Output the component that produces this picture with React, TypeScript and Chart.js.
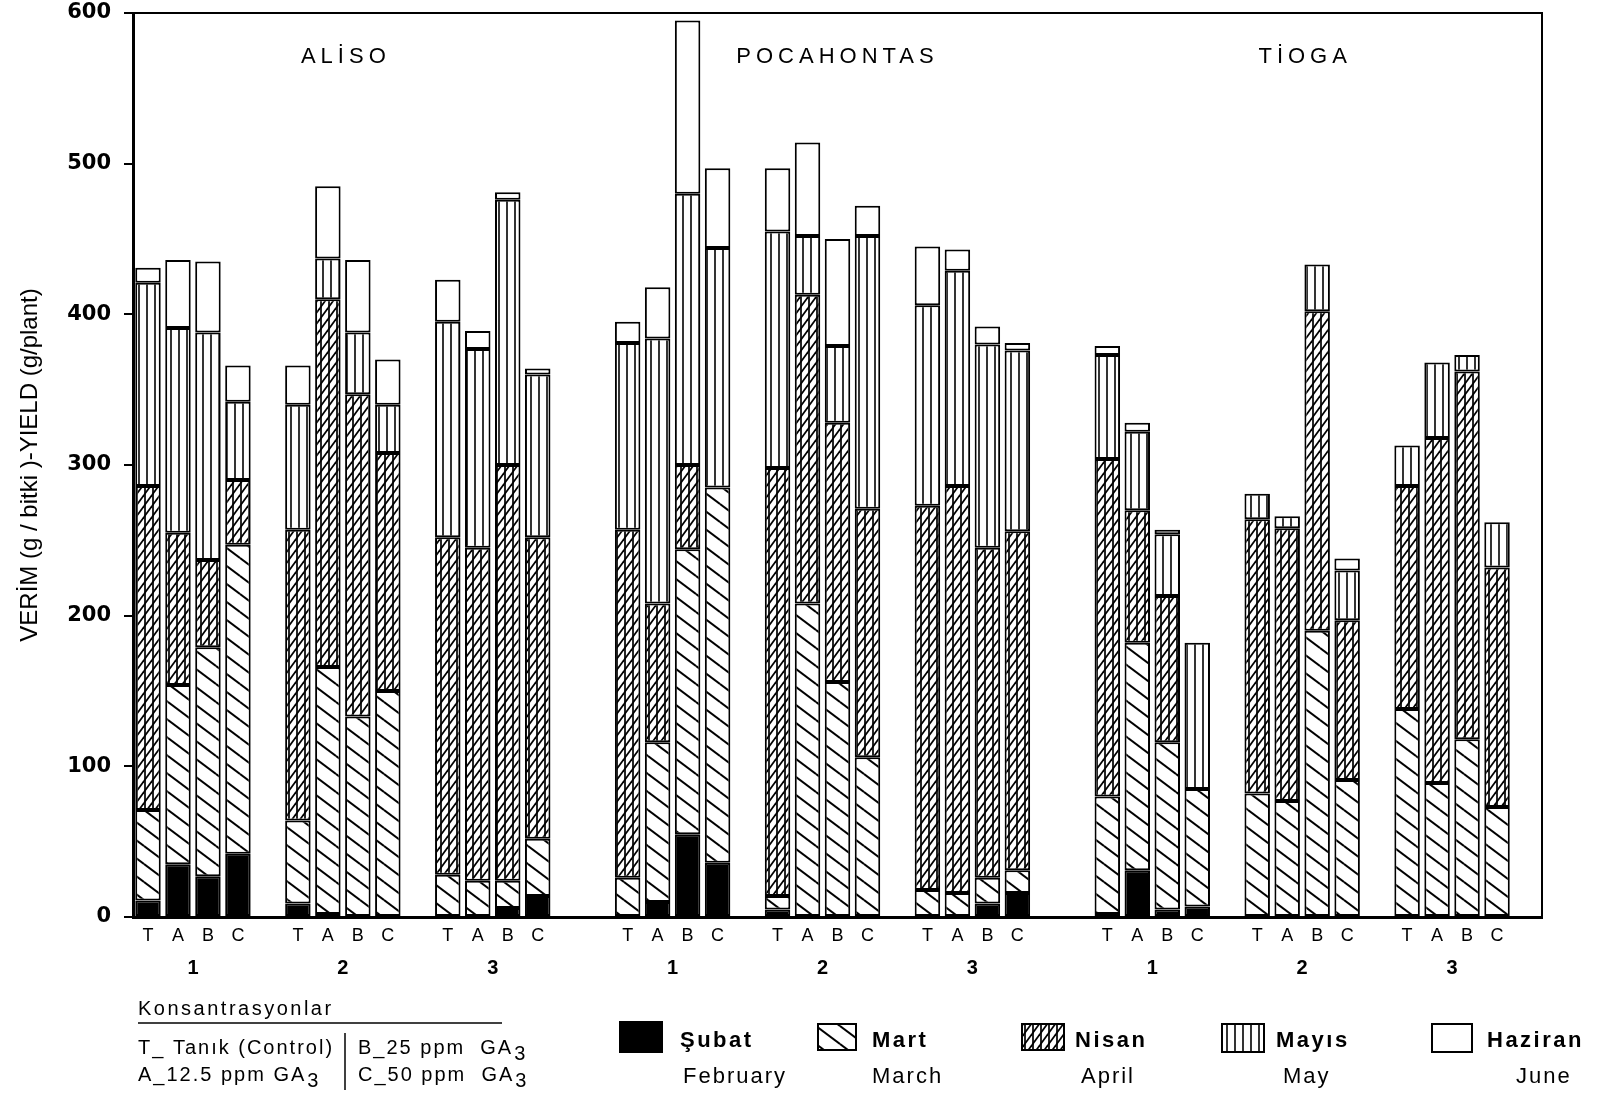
import React, { useEffect, useRef } from 'react';
import { Chart, registerables } from 'chart.js';

Chart.register(...registerables);

// ---- data ----
const varieties = ['ALİSO', 'POCAHONTAS', 'TİOGA'];
const harvests = ['1', '2', '3'];
const treatments = ['T', 'A', 'B', 'C'];
const yTicks = [0, 100, 200, 300, 400, 500, 600];

// order: Aliso 1(T,A,B,C) 2 3, Pocahontas 1 2 3, Tioga 1 2 3  (g/plant per month)
const subat = [11, 35, 27, 42, 9, 2, 0, 0, 0, 0, 6, 14, 0, 10, 55, 36, 5, 0, 0, 0, 0, 0, 9, 16, 2, 31, 5, 7, 0, 0, 0, 0, 0, 0, 0, 0];
const mart = [60, 119, 152, 205, 55, 164, 133, 150, 28, 24, 18, 38, 26, 106, 189, 249, 9, 208, 156, 106, 18, 16, 17, 15, 78, 151, 111, 78, 82, 77, 190, 91, 138, 89, 118, 73];
const nisan = [215, 101, 58, 43, 193, 244, 214, 158, 224, 221, 276, 200, 231, 92, 56, 0, 284, 205, 172, 165, 255, 270, 219, 225, 224, 88, 97, 0, 182, 181, 212, 106, 148, 229, 244, 159];
const mayis = [135, 136, 151, 52, 83, 27, 41, 32, 143, 132, 176, 108, 124, 176, 180, 159, 157, 39, 51, 181, 133, 143, 135, 120, 69, 52, 41, 97, 17, 8, 31, 33, 27, 50, 11, 30];
const haziran = [10, 45, 47, 24, 26, 48, 48, 30, 28, 12, 5, 4, 14, 34, 115, 53, 42, 62, 71, 20, 39, 14, 12, 5, 6, 6, 3, 0, 0, 0, 0, 8, 0, 0, 0, 0];

const seriesTr = ['Şubat', 'Mart', 'Nisan', 'Mayıs', 'Haziran'];
const seriesEn = ['February', 'March', 'April', 'May', 'June'];
const seriesValues = [subat, mart, nisan, mayis, haziran];
const seriesFill = ['solid', 'diag', 'cross', 'vert', 'none'];

const concTitle = 'Konsantrasyonlar';
const concLeft = [['T_ Tanık (Control)', ''], ['A_12.5 ppm GA', '3']];
const concRight = [['B_25 ppm  GA', '3'], ['C_50 ppm  GA', '3']];
const yTitle = 'VERİM (g / bitki )-YIELD (g/plant)';

// ---- slot layout (category axis with blank spacer slots) ----
const slotLabels: string[] = [];
const slotOfBar: number[] = [];
const groupFirstSlot: number[] = [];
const varietySlots: number[][] = [];
varieties.forEach((_, vi) => {
  const first = slotLabels.length;
  harvests.forEach((__, hi) => {
    groupFirstSlot.push(slotLabels.length);
    treatments.forEach((t) => {
      slotOfBar.push(slotLabels.length);
      slotLabels.push(t);
    });
    if (hi < harvests.length - 1) slotLabels.push('');
  });
  varietySlots.push([first, slotLabels.length - 1]);
  if (vi < varieties.length - 1) slotLabels.push('', '');
  else slotLabels.push('');
});

const SANS = '"Liberation Sans", Arial, sans-serif';
const titleShift = [0, 12, 0];

function makePattern(kind: string): any {
  if (kind === 'solid') return '#000';
  if (kind === 'none') return '#fff';
  let W = 8, H = 8;
  if (kind === 'diag') { W = 24; H = 18; }
  if (kind === 'cross') { W = 8; H = 11; }
  if (kind === 'vert') { W = 8; H = 8; }
  const c = document.createElement('canvas');
  c.width = W; c.height = H;
  const g = c.getContext('2d')!;
  g.fillStyle = '#fff';
  g.fillRect(0, 0, W, H);
  g.strokeStyle = '#000';
  const line = (x1: number, y1: number, x2: number, y2: number, lw: number) => {
    g.lineWidth = lw;
    for (const dx of [-W, 0, W]) for (const dy of [-H, 0, H]) {
      g.beginPath(); g.moveTo(x1 + dx, y1 + dy); g.lineTo(x2 + dx, y2 + dy); g.stroke();
    }
  };
  if (kind === 'diag') line(0, 0, W, H, 2);
  if (kind === 'cross') { line(1, 0, 1, H, 1.7); line(0, H, W, 0, 1.7); }
  if (kind === 'vert') line(3, 0, 3, H, 1.6);
  return g.createPattern(c, 'repeat');
}

function spaced(ctx: CanvasRenderingContext2D, px: number) {
  try { (ctx as any).letterSpacing = px + 'px'; } catch (e) { /* ignore */ }
}

function drawSubText(ctx: CanvasRenderingContext2D, parts: string[], x: number, y: number, size: number, sp: number) {
  ctx.font = `${size}px ${SANS}`;
  spaced(ctx, sp);
  ctx.textAlign = 'left';
  ctx.textBaseline = 'middle';
  ctx.fillText(parts[0], x, y);
  const w = ctx.measureText(parts[0]).width;
  if (parts[1]) {
    ctx.fillText(parts[1], x + w + 1, y + 6);
  }
}

function makeOverlay(pats: any[]) {
  return {
    id: 'overlay',
    afterDraw(chart: any) {
      const { ctx, chartArea: a } = chart;
      const x = chart.scales.x;
      ctx.save();
      ctx.fillStyle = '#000';
      ctx.strokeStyle = '#000';
      // frame (top + right)
      ctx.lineWidth = 2;
      ctx.beginPath();
      ctx.moveTo(a.left, a.top);
      ctx.lineTo(a.right, a.top);
      ctx.lineTo(a.right, a.bottom);
      ctx.stroke();

      // variety titles
      ctx.font = `22px ${SANS}`;
      spaced(ctx, 5);
      ctx.textAlign = 'center';
      ctx.textBaseline = 'middle';
      varieties.forEach((v, i) => {
        const [s0, s1] = varietySlots[i];
        const cx = (x.getPixelForValue(s0) + x.getPixelForValue(s1)) / 2;
        ctx.fillText(v, cx + 3 + titleShift[i], 57);
      });

      // harvest numbers
      ctx.font = `bold 20px ${SANS}`;
      spaced(ctx, 0);
      groupFirstSlot.forEach((s, i) => {
        const cx = x.getPixelForValue(s + 1.5);
        ctx.fillText(harvests[i % harvests.length], cx, a.bottom + 51);
      });

      // concentration notes
      ctx.textAlign = 'left';
      ctx.font = `20px ${SANS}`;
      spaced(ctx, 2.5);
      ctx.fillText(concTitle, 138, 1009);
      ctx.lineWidth = 1.5;
      ctx.beginPath(); ctx.moveTo(138, 1023); ctx.lineTo(502, 1023); ctx.stroke();
      drawSubText(ctx, concLeft[0], 138, 1048, 20, 2);
      drawSubText(ctx, concLeft[1], 138, 1075, 20, 2);
      drawSubText(ctx, concRight[0], 358, 1048, 20, 2);
      drawSubText(ctx, concRight[1], 358, 1075, 20, 2);
      ctx.lineWidth = 1.5;
      ctx.beginPath(); ctx.moveTo(345, 1033); ctx.lineTo(345, 1090); ctx.stroke();

      // legend
      const sw = [[620, 1022, 42, 30], [818, 1024, 38, 26], [1022, 1024, 42, 26], [1222, 1024, 42, 28], [1432, 1024, 40, 28]];
      const tx = [680, 872, 1075, 1276, 1487];
      const ex = [683, 872, 1081, 1283, 1516];
      seriesTr.forEach((name, i) => {
        const [sx, sy, w, h] = sw[i];
        ctx.fillStyle = pats[i];
        ctx.fillRect(sx, sy, w, h);
        ctx.fillStyle = '#000';
        ctx.lineWidth = 2;
        ctx.strokeRect(sx, sy, w, h);
        ctx.textAlign = 'left';
        ctx.textBaseline = 'middle';
        ctx.font = `bold 22px ${SANS}`;
        spaced(ctx, 2.5);
        ctx.fillText(name, tx[i], 1041);
        ctx.font = `22px ${SANS}`;
        spaced(ctx, 2);
        ctx.fillText(seriesEn[i], ex[i], 1077);
      });
      spaced(ctx, 0);
      ctx.restore();
    },
  };
}

export default function App() {
  const ref = useRef<HTMLCanvasElement>(null);
  useEffect(() => {
    const canvas = ref.current!;
    const pats = seriesFill.map(makePattern);
    const datasets = seriesValues.map((vals, si) => {
      const data: (number | null)[] = slotLabels.map(() => null);
      vals.forEach((v, bi) => { data[slotOfBar[bi]] = v > 0 ? v : null; });
      return {
        label: seriesTr[si],
        data,
        backgroundColor: pats[si],
        borderColor: '#000',
        borderWidth: 2,
        borderSkipped: false as any,
        barPercentage: 0.85,
        categoryPercentage: 1,
      };
    });
    const chart: any = new Chart(canvas, {
      type: 'bar',
      data: { labels: slotLabels, datasets },
      options: {
        animation: false,
        responsive: false,
        layout: { padding: { top: 13, right: 61, left: 0, bottom: 0 } },
        plugins: { legend: { display: false }, tooltip: { enabled: false } },
        scales: {
          x: {
            stacked: true,
            grid: { display: false, drawTicks: false },
            border: { display: true, color: '#000', width: 3 },
            ticks: { autoSkip: false, maxRotation: 0, minRotation: 0, color: '#000', font: { family: SANS, size: 18 }, padding: 8 },
            afterFit: (s: any) => { s.height = 177; s.paddingLeft = 0; s.paddingRight = 0; },
          },
          y: {
            stacked: true,
            min: yTicks[0],
            max: yTicks[yTicks.length - 1],
            afterBuildTicks: (s: any) => { s.ticks = yTicks.map((v) => ({ value: v })); },
            ticks: { color: '#000', font: { family: '"DejaVu Sans", sans-serif', size: 21, weight: 'bold' }, padding: 13 },
            grid: { drawOnChartArea: false, drawTicks: true, tickLength: 9, color: '#000', lineWidth: 2 },
            border: { display: true, color: '#000', width: 3 },
            title: { display: true, text: yTitle, color: '#000', font: { family: SANS, size: 24 }, padding: { top: 16, bottom: 0 } },
            afterFit: (s: any) => { s.width = 133; s.paddingTop = 0; s.paddingBottom = 0; },
          },
        },
      },
      plugins: [makeOverlay(pats)],
    } as any);
    return () => chart.destroy();
  }, []);
  return (
    <div style={{ position: 'absolute', left: 0, top: 0, width: 1603, height: 1094, background: '#fff' }}>
      <canvas ref={ref} width={1603} height={1094} style={{ display: 'block', width: 1603, height: 1094 }} />
    </div>
  );
}
